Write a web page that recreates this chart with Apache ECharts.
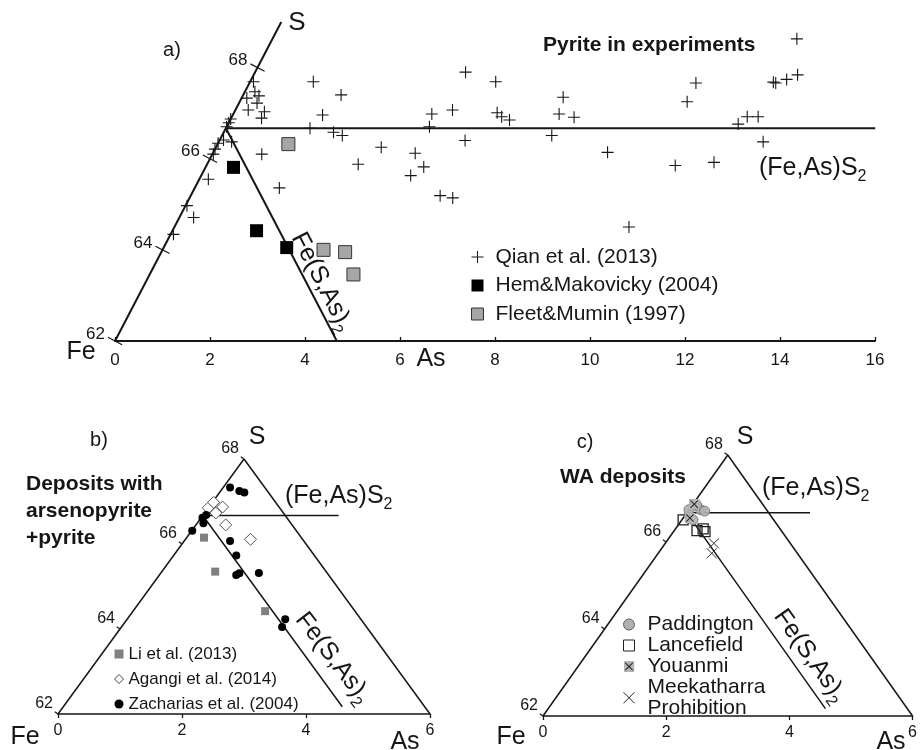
<!DOCTYPE html>
<html><head><meta charset="utf-8">
<script src="https://cdn.jsdelivr.net/npm/echarts@6/dist/echarts.min.js"></script>
<style>html,body{margin:0;padding:0;background:#fff}#c{width:920px;height:750px}</style>
</head><body><div id="c"></div>
<script>
const FONT = '"Liberation Sans", Arial, sans-serif';
const INK = '#161616';

// ---- data: [As at.%, S at.%] ----
// panel a
const qian = [[0.07,67.69],[0.21,67.47],[0.34,67.38],[0.11,67.33],[0.38,67.22],[0.27,67.07],[0.63,67.03],[0.64,66.89],
  [0.0,66.87],[0.0,66.79],[0.0,66.70],[0.08,66.41],[0.27,66.37],[0.0,66.34],[0.0,66.21],[0.02,66.10],
  [1.04,66.10],[0.19,65.55],[1.78,65.36],[0.03,64.97],[0.30,64.71],[0.06,64.34],
  [1.33,67.69],[2.06,67.40],[1.89,66.96],[1.77,66.67],[2.31,66.58],[2.53,66.51],[3.48,66.25],[3.18,65.88],
  [4.26,66.12],[4.59,65.82],[4.41,65.63],[5.25,65.19],[5.54,65.14],[4.18,66.98],[4.27,66.70],[4.57,67.07],
  [4.43,67.90],[5.17,66.40],[5.17,67.69],[5.54,67.01],[5.68,66.92],[5.88,66.85],[6.76,67.35],[6.86,66.98],
  [7.21,66.91],[6.94,66.51],[8.30,66.14],[11.04,68.63],[9.40,67.66],[9.42,67.25],[11.02,67.68],[11.08,67.66],
  [11.27,67.74],[11.45,67.84],[10.74,66.76],[10.85,66.92],[11.08,66.92],[11.46,66.37],[9.87,65.85],[10.65,65.92],[9.57,64.50]];
const hemMakovicky = [[0.59,65.81],[1.77,64.42],[2.59,64.05]];
const fleetMumin = [[1.49,66.32],[3.39,64.00],[3.87,63.95],[4.29,63.46]];
// panel b
const liEtAl = [[0.28,66.15],[0.86,65.35],[2.13,64.42]];
const agangi = [[0.0,66.85],[0.02,66.98],[0.22,66.87],[0.18,66.73],[0.48,66.45],[1.05,66.11]];
const zacharias = [[0.11,67.33],[0.30,67.25],[0.40,67.21],[0.02,66.62],[0.05,66.68],[0.10,66.49],[0.01,66.31],
  [0.74,66.07],[1.01,65.73],[1.24,65.27],[1.27,65.31],[1.58,65.32],[2.55,64.23],[2.59,64.05]];
// panel c
const paddington = [[0.03,66.85],[0.19,66.74],[0.27,66.71],[0.06,66.62],[0.18,66.51],[0.07,66.85],[0.0,66.74]];
const lancefield = [[0.02,66.51],[0.37,66.26],[0.51,66.24],[0.45,66.30]];
const youanmi = [[0.02,66.87],[0.11,66.55]];
const meekatharra = [[0.79,65.97],[0.87,65.74]];

// tick labels of the S (left) edge
const sTicks = [62, 64, 66, 68];

// reference lines [As, S]
const edgeA = [[0,62],[0,69]];
const pyriteA = [[0,66.67],[13.67,66.67]];
const arsenoA = [[0,66.67],[4.67,62]];
const edgeLeftBC = [[0,62],[0,68]];
const edgeRightBC = [[0,68],[6,62]];
const pyriteB = [[0,66.67],[2.19,66.67]];
const pyriteC = [[0,66.67],[2.0,66.67]];
const arsenoBC = [[0,66.67],[4.5,62.17]];

// oblique (ternary) projection: horizontal position = As + (S-62)/2
const toXY = ([as, s]) => [as + (s - 62) / 2, s];

const PLUS = 'path://M0,6H12M6,0V12';
const CROSS = 'path://M0,0L10,10M10,0L0,10';
const youSvg = "<svg xmlns='http://www.w3.org/2000/svg' width='24' height='24'><rect x='0' y='0' width='24' height='24' fill='#b4b4b4'/><path d='M4,4L20,20M20,4L4,20' stroke='#222' stroke-width='2.2'/></svg>";
const YOU = 'image://data:image/svg+xml;charset=utf-8,' + encodeURIComponent(youSvg);

function seg(g, pts, w) {
  return { type: 'line', xAxisIndex: g, yAxisIndex: g, data: pts.map(toXY), symbol: 'none', silent: true,
    lineStyle: { color: INK, width: w }, z: 3 };
}
function ticks(g, len, both, fs, lx, ly) {
  return {
    type: 'custom', xAxisIndex: g, yAxisIndex: g, silent: true, z: 4,
    data: sTicks.map(s => toXY([0, s])),
    renderItem(params, api) {
      const x = api.value(0), s = api.value(1);
      const p = api.coord([x, s]);
      const q = api.coord([x + 1, s + 2]);
      let dx = q[0] - p[0], dy = q[1] - p[1];
      const L = Math.hypot(dx, dy); dx /= L; dy /= L;
      const nx = dy, ny = -dx;
      const a = both ? [p[0] - nx * len / 2, p[1] - ny * len / 2] : p;
      const b = both ? [p[0] + nx * len / 2, p[1] + ny * len / 2] : [p[0] + nx * len, p[1] + ny * len];
      return { type: 'group', children: [
        { type: 'line', shape: { x1: a[0], y1: a[1], x2: b[0], y2: b[1] }, style: { stroke: INK, lineWidth: 1.2 } },
        { type: 'text', x: p[0] + lx, y: p[1] + ly,
          style: { text: String(s), font: fs + 'px ' + FONT, fill: INK, align: 'right', verticalAlign: 'middle' } }
      ]};
    }
  };
}
function scat(g, name, data, symbol, size, style, z) {
  return { type: 'scatter', name, xAxisIndex: g, yAxisIndex: g, data: data.map(toXY), symbol, symbolSize: size,
    itemStyle: Object.assign({ opacity: 1 }, style), z: z || 5, silent: true };
}
function txt(x, y, text, fs, opt) {
  opt = opt || {};
  return { type: 'text', x, y, rotation: opt.rot || 0, z: 10,
    style: { text, font: (opt.bold ? 'bold ' : '') + fs + 'px ' + FONT, fill: INK,
      align: opt.align || 'center', verticalAlign: 'middle', lineHeight: opt.lh, rich: opt.rich } };
}
const subRich = { sub: { fontSize: 16, fontFamily: FONT, fill: INK, verticalAlign: 'bottom', lineHeight: 34 } };
const sub = (x, y, t, opt) => txt(x, y, t, 25, Object.assign({ lh: 34, rich: subRich }, opt));

const xAxisBase = (g, max, w, inside, fs, margin) => ({
  gridIndex: g, type: 'value', min: 0, max, interval: 2,
  axisLine: { onZero: false, lineStyle: { color: INK, width: w } },
  axisTick: { inside, length: 4, lineStyle: { color: INK, width: 1.3 } },
  axisLabel: { fontSize: fs, margin, color: INK, fontFamily: FONT },
  splitLine: { show: false }
});

const chart = echarts.init(document.getElementById('c'));
chart.setOption({
  animation: false,
  backgroundColor: '#fff',
  grid: [
    { left: 115, top: 22, width: 760, height: 319 },
    { left: 58, top: 459, width: 372, height: 255 },
    { left: 543, top: 455, width: 372, height: 261 }
  ],
  xAxis: [xAxisBase(0, 16, 2, true, 17, 11), xAxisBase(1, 6, 1.5, false, 16, 9), xAxisBase(2, 6, 1.5, false, 16, 9)],
  yAxis: [
    { gridIndex: 0, type: 'value', min: 62, max: 69, show: false },
    { gridIndex: 1, type: 'value', min: 62, max: 68, show: false },
    { gridIndex: 2, type: 'value', min: 62, max: 68, show: false }
  ],
  legend: [
    { orient: 'vertical', left: 466, top: 241, itemWidth: 12, itemHeight: 12, itemGap: 6.5, selectedMode: false,
      textStyle: { fontSize: 21, fontFamily: FONT, color: INK, lineHeight: 22, padding: [0, 0, 0, 7] },
      data: [
        { name: 'Qian et al. (2013)', icon: PLUS, itemStyle: { color: 'transparent', borderColor: INK, borderWidth: 1 } },
        { name: 'Hem&Makovicky (2004)', icon: 'rect', itemStyle: { color: '#000', borderWidth: 0 } },
        { name: 'Fleet&Mumin (1997)', icon: 'rect', itemStyle: { color: '#a6a6a6', borderColor: '#333', borderWidth: 1 } }
      ] },
    { orient: 'vertical', left: 109, top: 640, itemWidth: 9, itemHeight: 9, itemGap: 7, selectedMode: false,
      textStyle: { fontSize: 17, fontFamily: FONT, color: INK, lineHeight: 18 },
      data: [
        { name: 'Li et al. (2013)', icon: 'rect', itemStyle: { color: '#808080', borderWidth: 0 } },
        { name: 'Agangi et al. (2014)', icon: 'diamond', itemStyle: { color: '#fff', borderColor: '#444', borderWidth: 1 } },
        { name: 'Zacharias et al. (2004)', icon: 'circle', itemStyle: { color: '#000', borderWidth: 0 } }
      ] },
    { orient: 'vertical', left: 618, top: 609, itemWidth: 11, itemHeight: 11, itemGap: 0, selectedMode: false,
      textStyle: { fontSize: 21, fontFamily: FONT, color: INK, lineHeight: 20.5, padding: [0, 0, 0, 8] },
      data: [
        { name: 'Paddington', icon: 'circle', itemStyle: { color: '#a8a8a8', borderColor: '#555', borderWidth: 1 } },
        { name: 'Lancefield', icon: 'rect', itemStyle: { color: '#fff', borderColor: '#222', borderWidth: 1 } },
        { name: 'Youanmi', icon: YOU },
        { name: 'Meekatharra\nProhibition', icon: CROSS, itemStyle: { color: 'transparent', borderColor: '#222', borderWidth: 1 } }
      ] }
  ],
  series: [
    // panel a
    seg(0, edgeA, 2), seg(0, pyriteA, 2), seg(0, arsenoA, 2),
    ticks(0, 16, true, 17, -10, -7),
    scat(0, 'Qian et al. (2013)', qian, PLUS, 12, { color: 'transparent', borderColor: INK, borderWidth: 1.1 }),
    scat(0, 'Hem&Makovicky (2004)', hemMakovicky, 'rect', 13, { color: '#000' }),
    scat(0, 'Fleet&Mumin (1997)', fleetMumin, 'rect', 13, { color: '#a6a6a6', borderColor: '#333', borderWidth: 1 }),
    // panel b
    seg(1, edgeLeftBC, 1.5), seg(1, edgeRightBC, 1.5), seg(1, pyriteB, 1.5), seg(1, arsenoBC, 1.5),
    ticks(1, 4, false, 16, -5, -10),
    scat(1, 'Li et al. (2013)', liEtAl, 'rect', 8, { color: '#808080' }),
    scat(1, 'Agangi et al. (2014)', agangi, 'diamond', 12, { color: '#fff', borderColor: '#555', borderWidth: 1 }),
    scat(1, 'Zacharias et al. (2004)', zacharias, 'circle', 8, { color: '#000' }),
    // panel c
    seg(2, edgeLeftBC, 1.5), seg(2, edgeRightBC, 1.5), seg(2, pyriteC, 1.5), seg(2, arsenoBC, 1.5),
    ticks(2, 4, false, 16, -5, -10),
    scat(2, 'Paddington', paddington, 'circle', 10, { color: '#b0b0b0', borderColor: '#777', borderWidth: 1, opacity: 0.9 }, 4),
    scat(2, 'Lancefield', lancefield, 'rect', 10, { color: 'transparent', borderColor: '#222', borderWidth: 1.3 }),
    scat(2, 'Youanmi', youanmi, YOU, 11, {}),
    scat(2, 'Meekatharra\nProhibition', meekatharra, CROSS, 10, { color: 'transparent', borderColor: '#333', borderWidth: 1 })
  ],
  graphic: [
    // panel a
    txt(172, 50, 'a)', 20),
    txt(297, 23, 'S', 26),
    txt(543, 45, 'Pyrite in experiments', 21, { bold: true, align: 'left' }),
    txt(81, 352, 'Fe', 25),
    txt(431, 359, 'As', 25),
    sub(759, 168, '(Fe,As)S{sub|2}', { align: 'left' }),
    sub(322, 282, 'Fe(S,As){sub|2}', { rot: -62.8 * Math.PI / 180 }),
    // panel b
    txt(99, 440, 'b)', 20),
    txt(257, 437, 'S', 25),
    txt(26, 511, 'Deposits with\narsenopyrite\n+pyrite', 21, { bold: true, align: 'left', lh: 27 }),
    sub(285, 496, '(Fe,As)S{sub|2}', { align: 'left' }),
    sub(333, 658, 'Fe(S,As){sub|2}', { rot: -52.6 * Math.PI / 180 }),
    txt(25, 737, 'Fe', 25),
    txt(405, 742, 'As', 25),
    // panel c
    txt(585, 442, 'c)', 20),
    txt(745, 437, 'S', 25),
    txt(560, 477, 'WA deposits', 21, { bold: true, align: 'left' }),
    sub(762, 488, '(Fe,As)S{sub|2}', { align: 'left' }),
    sub(810, 656, 'Fe(S,As){sub|2}', { rot: -54.7 * Math.PI / 180 }),
    txt(511, 737, 'Fe', 25),
    txt(891, 742, 'As', 25)
  ]
});
</script></body></html>
